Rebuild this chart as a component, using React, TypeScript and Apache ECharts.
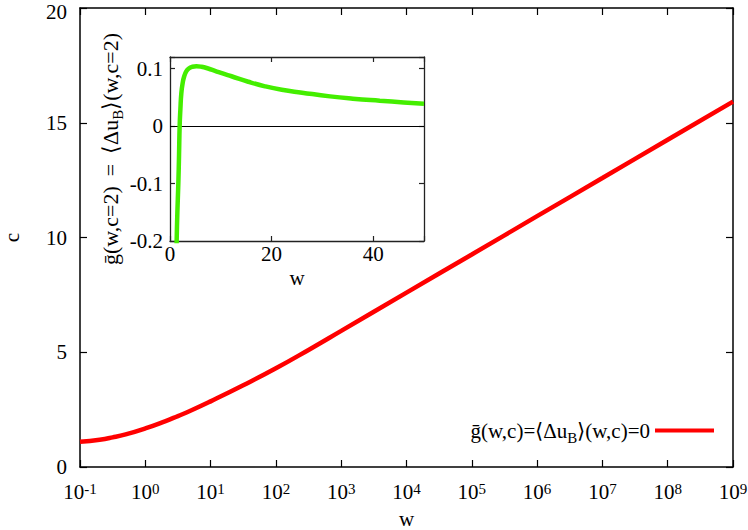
import React, { useEffect, useRef } from "react";
import * as echarts from "echarts";

// Main curve: g(w,c) = <Δu_B>(w,c) = 0, c as a function of w (log axis)
const mainW = [0.1, 0.2, 0.316, 0.5, 1, 2, 3.16, 5, 10, 31.6, 100, 316, 1e3, 1e4, 1e5, 1e6, 1e7, 1e8, 1e9];
const mainC = [1.1, 1.19, 1.29, 1.42, 1.68, 1.99, 2.22, 2.46, 2.86, 3.56, 4.3, 5.1, 5.93, 7.6, 9.26, 10.93, 12.59, 14.26, 15.92];

// Inset: g(w, c=2)
const insetW = [1.25, 1.31, 1.45, 1.64, 1.78, 1.9, 2.05, 2.23, 2.5, 2.8, 3.2, 3.7, 4.4, 5.2, 6.2, 7.5, 8.85, 10.5, 12.1, 15.4, 18.7, 22, 26, 31.5, 36, 41.3, 46, 50];
const insetG = [-0.23, -0.2, -0.15, -0.1, -0.05, 0, 0.03, 0.057, 0.075, 0.0865, 0.095, 0.1, 0.103, 0.104, 0.103, 0.1, 0.096, 0.091, 0.0865, 0.077, 0.069, 0.063, 0.058, 0.0515, 0.0475, 0.0439, 0.041, 0.0386];

const mainYTicks = [0, 5, 10, 15, 20];
const insetYTicks = [-0.2, -0.1, 0, 0.1];
const insetXTicks = [0, 20, 40];

const FONT = "'Liberation Serif', 'Times New Roman', serif";
const RED_NAME = "main";

export default function App() {
  const ref = useRef<HTMLDivElement>(null);
  useEffect(() => {
    document.body.style.margin = "0";
    const chart = echarts.init(ref.current!, null, { renderer: "svg" });
    const base = { fontFamily: FONT, color: "#000", fontSize: 21 };
    const frame = { show: true, onZero: false, lineStyle: { color: "#000", width: 1.5 } };
    const insetFrame = { show: true, onZero: false, lineStyle: { color: "#222", width: 1.3 } };
    const tick = { show: true, inside: true, length: 7, lineStyle: { color: "#000", width: 1.2 } };
    const insetTick = { show: true, inside: true, length: 5, lineStyle: { color: "#222", width: 1.2 } };
    const supLabel = (v: number) => {
      const e = Math.round(Math.log10(v));
      return `{b|10}{s|${e}}`;
    };
    const supRich = {
      b: { fontFamily: FONT, fontSize: 21, color: "#000" },
      s: { fontFamily: FONT, fontSize: 15, color: "#000", verticalAlign: "top" },
    };
    const labelRich = {
      t: { fontFamily: FONT, fontSize: 21, color: "#000" },
      sub: { fontFamily: FONT, fontSize: 15, color: "#000", verticalAlign: "bottom", padding: [0, 0, -4, 0] },
    };
    const insetNameRich = {
      t: { fontFamily: FONT, fontSize: 22, color: "#000" },
      sub: { fontFamily: FONT, fontSize: 15, color: "#000", verticalAlign: "bottom", padding: [0, 0, -4, 0] },
    };
    const option: any = {
      animation: false,
      backgroundColor: "#fff",
      grid: [
        { left: 80, right: 15, top: 8, bottom: 63, outerBoundsMode: "none", containLabel: false },
        {
          left: 170, width: 254, top: 57, height: 184,
          show: true, backgroundColor: "#fff", borderWidth: 0,
          outerBoundsMode: "none", containLabel: false,
        },
      ],
      legend: {
        data: [RED_NAME],
        right: 29,
        top: 415,
        align: "right",
        icon: "rect",
        itemWidth: 59,
        itemHeight: 4,
        formatter: () => "{t|ḡ(w,c)=⟨Δu}{sub|B}{t|⟩(w,c)=0}",
        textStyle: { ...base, rich: labelRich },
      },
      xAxis: [
        {
          type: "log",
          logBase: 10,
          gridIndex: 0,
          min: 0.1,
          max: 1e9,
          interval: 1,
          position: "bottom",
          axisLine: frame,
          axisTick: tick,
          splitLine: { show: false },
          minorTick: { show: false },
          axisLabel: { margin: 14, formatter: supLabel, rich: supRich, ...base },
          name: "w",
          nameLocation: "middle",
          nameGap: 44,
          nameTextStyle: { ...base, lineHeight: 16 },
        },
        {
          type: "log",
          logBase: 10,
          gridIndex: 0,
          min: 0.1,
          max: 1e9,
          interval: 1,
          position: "top",
          axisLine: frame,
          axisTick: tick,
          splitLine: { show: false },
          axisLabel: { show: false },
        },
        {
          type: "value",
          gridIndex: 1,
          min: 0,
          max: 50,
          interval: 20,
          position: "bottom",
          axisLine: insetFrame,
          axisTick: insetTick,
          splitLine: { show: false },
          axisLabel: {
            ...base,
            margin: 2,
            formatter: (v: number) => (insetXTicks.includes(v) ? String(v) : ""),
          },
          name: "w",
          nameLocation: "middle",
          nameGap: 26,
          nameTextStyle: base,
        },
        {
          type: "value",
          gridIndex: 1,
          min: 0,
          max: 50,
          interval: 20,
          position: "top",
          axisLine: insetFrame,
          axisTick: insetTick,
          splitLine: { show: false },
          axisLabel: { show: false },
        },
      ],
      yAxis: [
        {
          type: "value",
          gridIndex: 0,
          min: 0,
          max: 20,
          interval: 5,
          position: "left",
          axisLine: frame,
          axisTick: tick,
          splitLine: { show: false },
          axisLabel: {
            ...base,
            lineHeight: 14,
            margin: 13,
            formatter: (v: number) =>
              v === 20 ? "{top|20}" : mainYTicks.includes(v) ? String(v) : "",
            rich: {
              top: { fontFamily: FONT, fontSize: 21, color: "#000", lineHeight: 14, padding: [8, 0, 0, 0] },
            },
          },
          name: "c",
          nameLocation: "middle",
          nameGap: 60,
          nameRotate: 90,
          nameTextStyle: { ...base, lineHeight: 16 },
        },
        {
          type: "value",
          gridIndex: 0,
          min: 0,
          max: 20,
          interval: 5,
          position: "right",
          axisLine: frame,
          axisTick: tick,
          splitLine: { show: false },
          axisLabel: { show: false },
        },
        {
          type: "value",
          gridIndex: 1,
          min: -0.2,
          max: 0.12,
          interval: 0.1,
          position: "left",
          axisLine: insetFrame,
          axisTick: insetTick,
          splitLine: { show: false },
          axisLabel: {
            ...base,
            margin: 7,
            formatter: (v: number) => {
              const r = Math.round(v * 10) / 10;
              return insetYTicks.some((t) => Math.abs(t - v) < 1e-6) ? String(r) : "";
            },
          },
          name: "{t|ḡ(w,c=2)\u2009 = \u2009⟨Δu}{sub|B}{t|⟩(w,c=2)}",
          nameLocation: "middle",
          nameGap: 48,
          nameRotate: 90,
          nameTextStyle: { ...base, rich: insetNameRich },
        },
        {
          type: "value",
          gridIndex: 1,
          min: -0.2,
          max: 0.12,
          interval: 0.1,
          position: "right",
          axisLine: insetFrame,
          axisTick: insetTick,
          splitLine: { show: false },
          axisLabel: { show: false },
        },
      ],
      series: [
        {
          name: RED_NAME,
          type: "line",
          xAxisIndex: 0,
          yAxisIndex: 0,
          data: mainW.map((w, i) => [w, mainC[i]]),
          smooth: true,
          showSymbol: false,
          symbol: "none",
          lineStyle: { color: "#ff0000", width: 4.5 },
          itemStyle: { color: "#ff0000" },
        },
        {
          name: "inset",
          type: "line",
          xAxisIndex: 2,
          yAxisIndex: 2,
          data: insetW.map((w, i) => [w, insetG[i]]),
          smooth: true,
          showSymbol: false,
          symbol: "none",
          clip: true,
          z: 10,
          lineStyle: { color: "#44ee00", width: 4.5 },
          itemStyle: { color: "#44ee00" },
          markLine: {
            silent: true,
            symbol: "none",
            label: { show: false },
            lineStyle: { color: "#000", width: 1.2, type: "solid" },
            data: [{ yAxis: 0 }],
          },
        },
      ],
    };
    chart.setOption(option);
    return () => chart.dispose();
  }, []);
  return <div ref={ref} style={{ width: 748, height: 530 }} />;
}
